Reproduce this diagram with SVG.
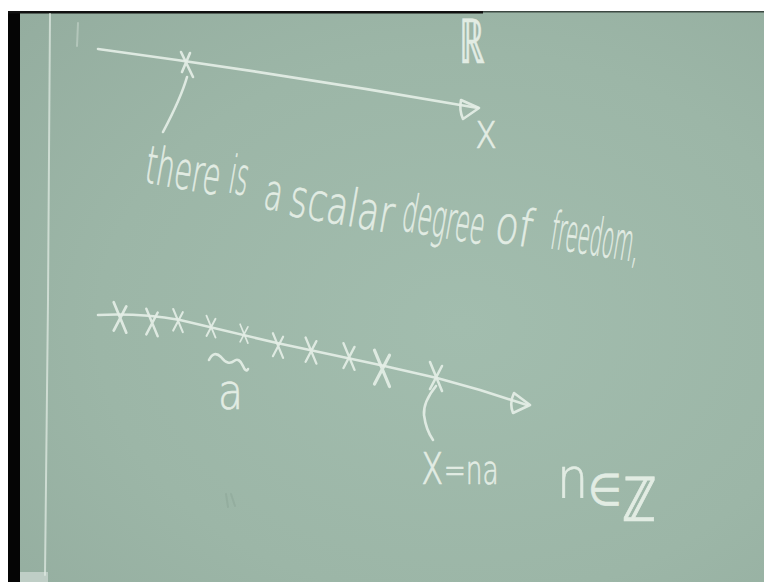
<svg xmlns="http://www.w3.org/2000/svg" width="764" height="582" viewBox="0 0 764 582">
  <defs>
    <radialGradient id="board" cx="0.6" cy="0.55" r="0.8">
      <stop offset="0" stop-color="#a2bdae"/>
      <stop offset="0.6" stop-color="#9cb6a7"/>
      <stop offset="1" stop-color="#94ad9f"/>
    </radialGradient>
    <path id="xm" d="M-6,-15 L6,14 M6,-11 L-6,12"/>
  </defs>
  <style>
    .chalk{fill:none;stroke:#e4eee6;stroke-width:2.6;stroke-linecap:round;stroke-linejoin:round;opacity:0.92}
    .faint{fill:none;stroke:#dfe9e1;stroke-width:2;stroke-linecap:round;opacity:0.6}
    .t{fill:#e6efe7;stroke:#e6efe7;stroke-width:0.7;font-family:"DejaVu Sans","Open Sans","Liberation Sans",sans-serif;font-weight:200;opacity:0.95}
  </style>

  <!-- background -->
  <rect x="0" y="0" width="764" height="582" fill="#ffffff"/>
  <rect x="8" y="11" width="756" height="571" fill="url(#board)"/>
  <rect x="8" y="11" width="12" height="571" fill="#050505"/>
  <rect x="8" y="11" width="475" height="2.5" fill="#111111"/>
  <rect x="483" y="11" width="281" height="1.5" fill="#3c4842"/>
  <rect x="20" y="572" width="28" height="10" fill="#c9d6cf" opacity="0.8"/>

  <!-- margin line and marks -->
  <g id="margin">
    <path class="faint" d="M50,14 L48,300 L45,575" style="opacity:0.75"/>
    <path class="faint" d="M78,23 L77,46" style="opacity:0.4"/>
    <path class="faint" d="M226,494 L228,507 M231,494 L235,506" style="opacity:0.18;stroke:#6e8478"/>
  </g>

  <!-- top axis: real line -->
  <g id="axis-real">
    <path class="chalk" d="M98,49 Q290,75 478,108"/>
    <path class="chalk" d="M461,100 L479,108 L463,119 Q459,110 461,100 Z"/>
    <path class="chalk" d="M181,52 L193,77 M190,53 L182,72"/>
    <path class="chalk" d="M187,77 Q181,98 163,132"/>
    <text class="t" font-size="62" transform="translate(459,63) scale(0.58,1)">ℝ</text>
    <text class="t" font-size="50" transform="translate(475,148) scale(0.75,1)">x</text>
  </g>

  <!-- sentence -->
  <g id="sentence">
    <text class="t" font-size="52" transform="translate(143,182) rotate(10) scale(0.55,1)">there</text>
    <text class="t" font-size="52" transform="translate(227,192) rotate(10) scale(0.45,1)">is</text>
    <text class="t" font-size="50" transform="translate(262,208) rotate(10) scale(0.6,1)">a</text>
    <text class="t" font-size="52" transform="translate(287,215) rotate(10) scale(0.68,1)">scalar</text>
    <text class="t" font-size="52" transform="translate(400,230) rotate(10) scale(0.46,1)">degree</text>
    <text class="t" font-size="52" transform="translate(493,241) rotate(10) scale(0.74,1)">of</text>
    <text class="t" font-size="52" transform="translate(549,248) rotate(9) scale(0.38,1)">freedom,</text>
  </g>

  <!-- lattice axis -->
  <g id="axis-lattice">
    <path class="chalk" d="M98,315 Q140,313 180,320 L277,343 L380,365 L437,378 L480,390 L527,405"/>
    <path class="chalk" d="M514,393 L530,405 L513,413 Q509,403 514,393 Z"/>
    <g class="chalk">
      <use href="#xm" transform="translate(120,318) scale(1.05)"/>
      <use href="#xm" transform="translate(152,323) scale(0.95)"/>
      <use href="#xm" transform="translate(178,321) scale(0.8)"/>
      <use href="#xm" transform="translate(211,327) scale(0.75)"/>
      <use href="#xm" transform="translate(244,334) scale(0.65)"/>
      <use href="#xm" transform="translate(278,346) scale(0.85)"/>
      <use href="#xm" transform="translate(311,351) scale(0.9)"/>
      <use href="#xm" transform="translate(349,357) scale(0.92)"/>
      <use href="#xm" transform="translate(382,369) scale(1.25)"/>
      <use href="#xm" transform="translate(436,377) scale(1.0)"/>
    </g>
    <path class="chalk" d="M209,360 Q214,350 221,357 Q228,366 234,361 Q239,357 243,366 Q246,373 248,369"/>
    <text class="t" font-size="50" transform="translate(218,409) scale(0.82,1)">a</text>
    <path class="chalk" d="M436,386 Q423,402 424,415 Q426,430 433,440"/>
  </g>

  <!-- labels -->
  <g id="labels">
    <text class="t" font-size="40" transform="translate(421,484) scale(0.66,1)"><tspan font-size="58">x</tspan>=na</text>
    <text class="t" font-size="56" transform="translate(557,497) scale(0.88,1)">n<tspan dy="8" font-size="44">∈</tspan><tspan dy="16" font-size="62">ℤ</tspan></text>
  </g>
</svg>
